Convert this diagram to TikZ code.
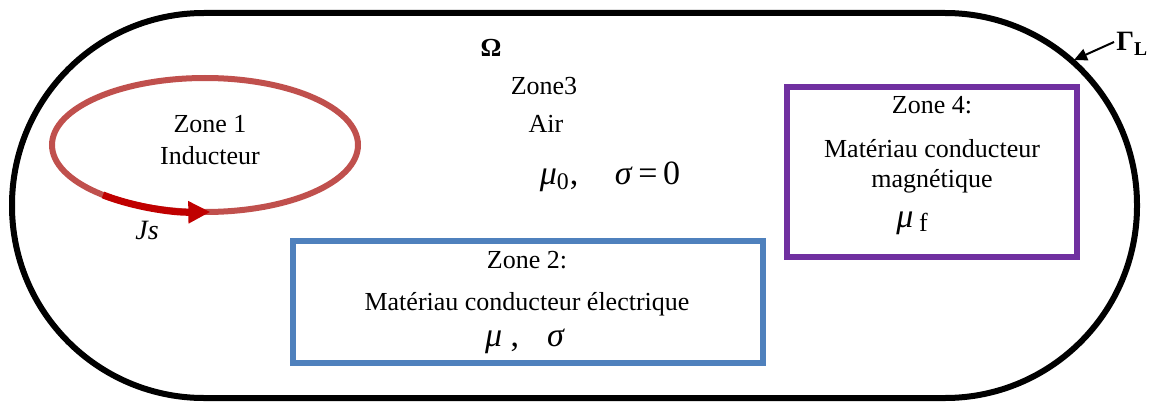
\documentclass[tikz,border=0pt]{standalone}
\usepackage{fontspec}
\setmainfont{Liberation Serif}
\usetikzlibrary{arrows.meta,shapes.geometric,calc}
\definecolor{coilred}{HTML}{C0504D}
\definecolor{jsred}{HTML}{C00000}
\definecolor{zblue}{HTML}{4F81BD}
\definecolor{zpurple}{HTML}{7030A0}
\begin{document}
\begin{tikzpicture}[x=0.5pt,y=-0.5pt,
  lbl/.style={anchor=base, inner sep=0pt, font=\fontsize{13}{15}\selectfont},
  mth/.style={anchor=base, inner sep=0pt, font=\fontsize{17}{20}\selectfont},
  zonebox/.style={draw, line width=3pt, inner sep=0pt, fill=none}]
\useasboundingbox (0,0) rectangle (1154,401);
% outer boundary
\draw[line width=3pt, rounded corners=96pt] (12,13) rectangle (1137,398);
\coordinate (gt) at (1074,60);
\node[anchor=base west, inner sep=0pt, font=\fontsize{14}{16}\selectfont\bfseries] (gl) at (1116,51) {Γ\textsubscript{L}};
\draw[line width=1pt, -{Triangle[length=6.5pt,width=6pt]}] ([xshift=-1pt,yshift=1pt]gl.west) -- (gt);
% Omega
\node[lbl, font=\fontsize{13}{15}\selectfont\bfseries] (omega) at (491,57) {Ω};
% zone 3
\node[lbl] (z3a) at (544,95) {Zone3};
\node[lbl] (z3b) at (546,133) {Air};
\node[mth] (z3c) at (610,184) {\textit{μ}\textsubscript{0}, \hspace{14pt}\textit{σ}\,=\,0};
% zone 1
\node[ellipse, draw=coilred, line width=3pt, minimum width=153pt, minimum height=67pt, inner sep=0pt] (z1) at (205,145) {};
\node[lbl] (z1a) at (210,133) {Zone 1};
\node[lbl] (z1b) at (210,164) {Inducteur};
\draw[jsred, line width=3.5pt, -{Triangle[length=11pt,width=10.5pt]}]
  ($(z1.center)+(131.8:153 and 67)$) arc[start angle=131.8, end angle=88, x radius=153, y radius=67];
\node[lbl, font=\fontsize{14}{16}\selectfont\itshape] (js) at (147,239) {Js};
% zone 2
\node[zonebox, draw=zblue, minimum width=235pt, minimum height=61pt] (z2) at (528,302) {};
\node[lbl] (z2a) at (527,268) {Zone 2:};
\node[lbl] (z2b) at (527,310) {Matériau conducteur électrique};
\node[mth] (z2c) at (525,346) {\textit{μ} ,\hspace{14pt}\textit{σ}};
% zone 4
\node[zonebox, draw=zpurple, minimum width=145pt, minimum height=85pt] (z4) at (932,172) {};
\node[lbl] (z4a) at (932,113) {Zone 4:};
\node[lbl] (z4b) at (932,157) {Matériau conducteur};
\node[lbl] (z4c) at (932,187) {magnétique};
\node[mth] (z4d) at (912,227) {\textit{μ}\,\raisebox{-2pt}{\fontsize{13}{15}\selectfont f}};
\end{tikzpicture}
\end{document}
